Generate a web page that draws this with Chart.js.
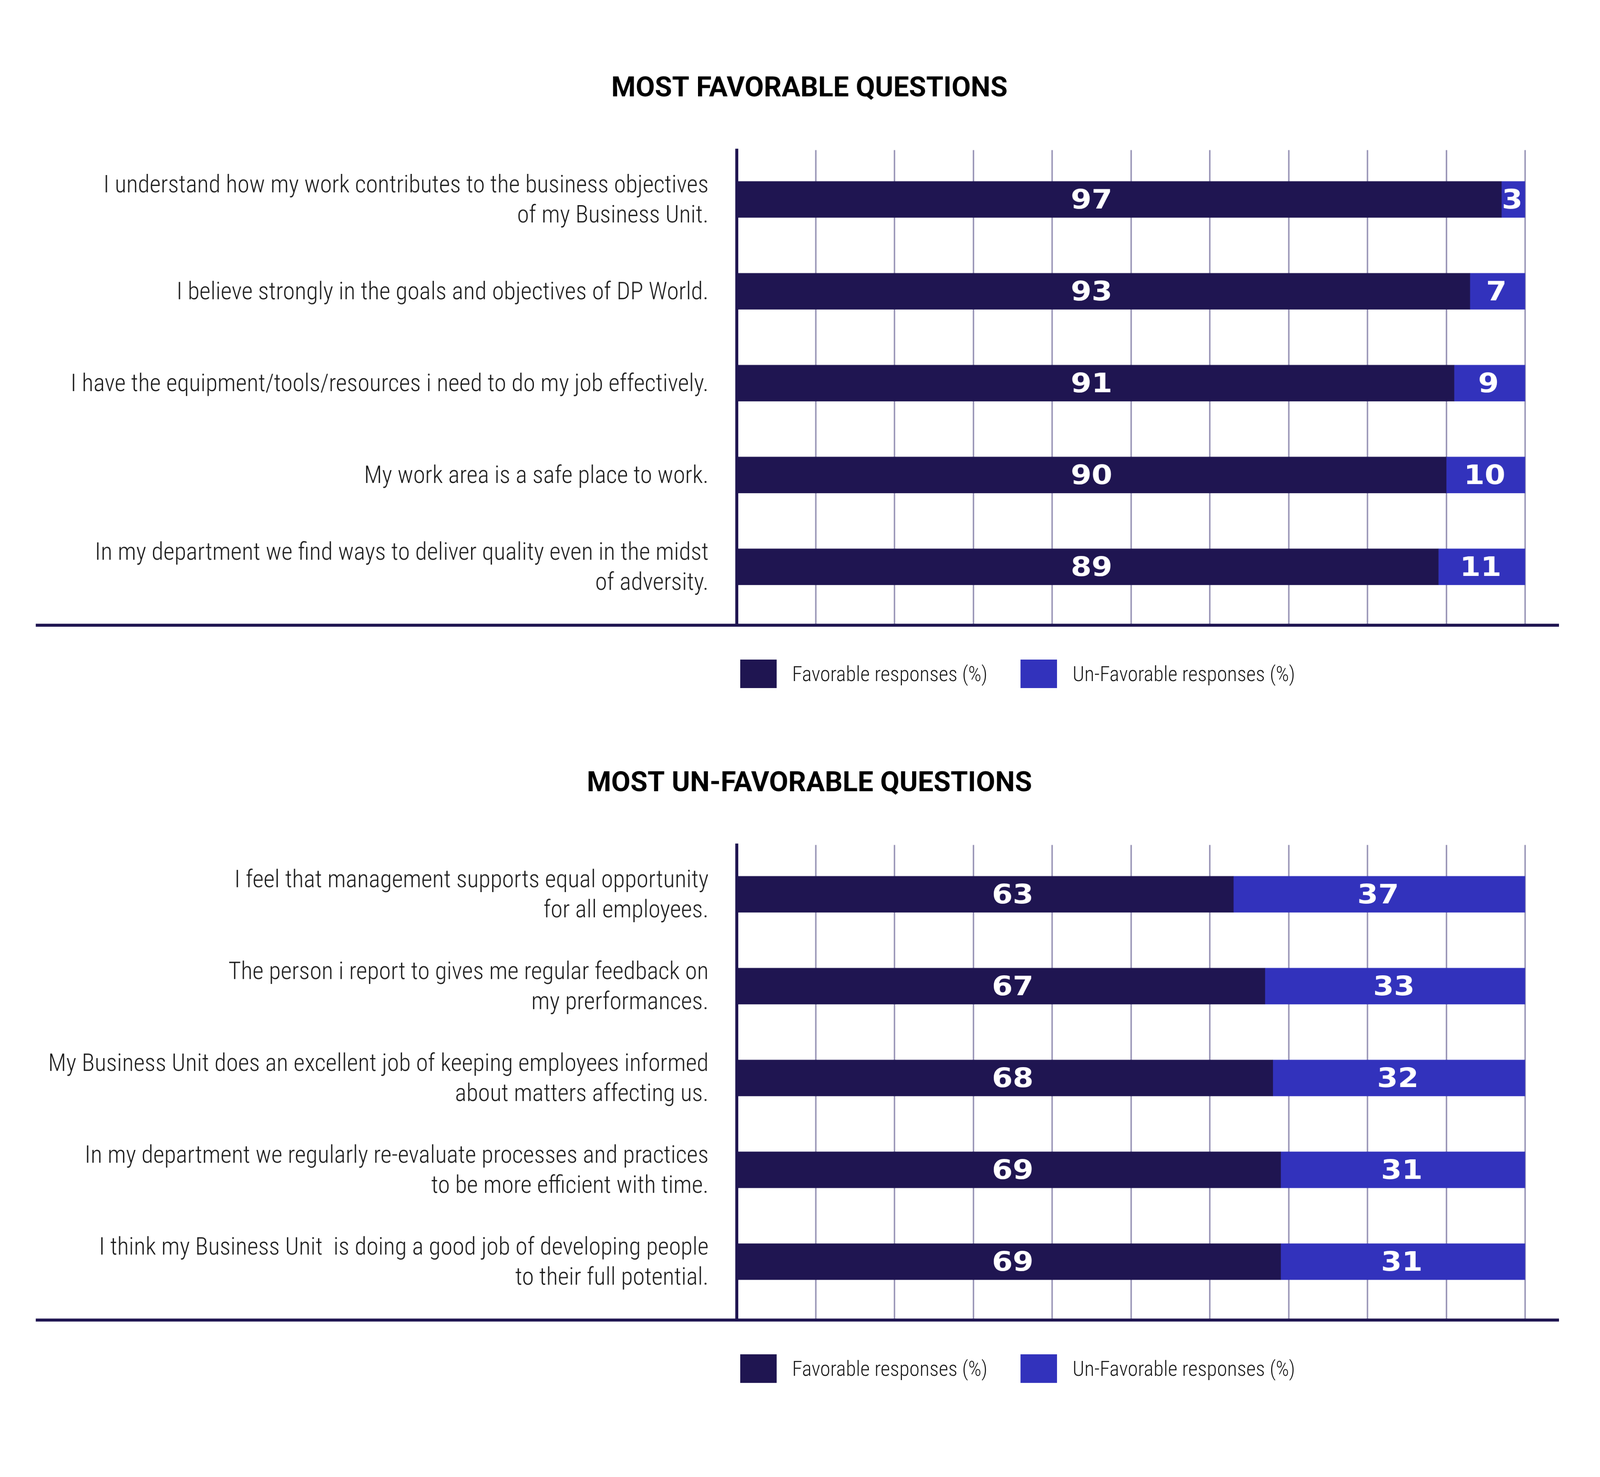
<!DOCTYPE html>
<html>
<head>
<meta charset="utf-8">
<script src="https://cdn.jsdelivr.net/npm/chart.js@4.4.1/dist/chart.umd.min.js"></script>
<style>
  html, body { margin: 0; padding: 0; background: #fff; overflow: hidden; }
  #page { position: absolute; left: 0; top: 0; width: 4252px; height: 3780px; transform-origin: 0 0; }
  .block { position: relative; width: 4252px; height: 1846px; }
  .block canvas { display: block; }
  .legend { position: absolute; left: 1967px; top: 1752px; display: flex; align-items: center;
    font-family: 'Roboto Condensed', 'DejaVu Sans Condensed', 'Roboto', sans-serif;
    font-weight: 300; font-size: 55px; color: #1a1a1a; }
  .legend span.box { display: inline-block; width: 97px; height: 76px; margin-right: 41px; }
  .legend span.txt { margin-right: 88px; }
</style>
</head>
<body>
<div id="page">
  <div class="block"><canvas id="fav"></canvas><div class="legend" id="favLegend"></div></div>
  <div class="block"><canvas id="unfav"></canvas><div class="legend" id="unfavLegend"></div></div>
</div>
<script>
const seriesNames = ['Favorable responses (%)', 'Un-Favorable responses (%)'];

const favQuestions = [
  ['I understand how my work contributes to the business objectives', 'of my Business Unit.'],
  ['I believe strongly in the goals and objectives of DP World.'],
  ['I have the equipment/tools/resources i need to do my job effectively.'],
  ['My work area is a safe place to work.'],
  ['In my department we find ways to deliver quality even in the midst', 'of adversity.']
];
const favPositive = [97, 93, 91, 90, 89];
const favNegative = [3, 7, 9, 10, 11];

const unfavQuestions = [
  ['I feel that management supports equal opportunity', 'for all employees.'],
  ['The person i report to gives me regular feedback on', 'my prerformances.'],
  ['My Business Unit does an excellent job of keeping employees informed', 'about matters affecting us.'],
  ['In my department we regularly re-evaluate processes and practices', 'to be more efficient with time.'],
  ['I think my Business Unit  is doing a good job of developing people', 'to their full potential.']
];
const unfavPositive = [63, 67, 68, 69, 69];
const unfavNegative = [37, 33, 32, 31, 31];

// fit the 4252px design into whatever css viewport we get
const fitScale = window.innerWidth / 4252;
document.getElementById('page').style.transform = `scale(${fitScale})`;

const Survey = (() => {
  const S = {
    dark: '#1f1551', blue: '#3232bc', grid: '#9b97b8', text: '#1a1a1a',
    narrow: "'Roboto Condensed', 'DejaVu Sans Condensed', 'Roboto', sans-serif",
    wide: "'DejaVu Sans', 'Verdana', sans-serif"
  };

  // value labels + long base line under the plot
  const extras = {
    id: 'extras',
    afterLayout(chart) { chart.scales.y.left = 0; },
    afterDraw(chart, args, opts) {
      const { ctx, chartArea, scales } = chart;
      ctx.save();
      ctx.fillStyle = S.dark;
      ctx.fillRect(95, chartArea.bottom, chartArea.right + 90 - 95, 8);
      ctx.font = `bold 71px ${S.wide}`;
      ctx.fillStyle = '#fff';
      ctx.textAlign = 'center';
      ctx.textBaseline = 'middle';
      chart.data.datasets.forEach((ds, di) => {
        chart.getDatasetMeta(di).data.forEach((bar, i) => {
          const x = di === 0 ? scales.x.getPixelForValue(opts.favAt) : (bar.x + bar.base) / 2 - 3;
          ctx.save();
          ctx.translate(x, bar.y + 6);
          ctx.scale(1.12, 1);
          ctx.fillText(String(ds.data[i].x), 0, 0);
          ctx.restore();
        });
      });
      ctx.restore();
    }
  };

  function legend(el) {
    el.innerHTML = seriesNames.map((n, i) =>
      `<span class="box" style="background:${i ? S.blue : S.dark}"></span><span class="txt">${n}</span>`).join('');
  }

  function draw(canvasId, legendId, title, questions, pos, neg, favAt) {
    const canvas = document.getElementById(canvasId);
    canvas.width = 4252; canvas.height = 1846;
    legend(document.getElementById(legendId));
    return new Chart(canvas.getContext('2d'), {
      type: 'bar',
      data: { datasets: [
        { label: seriesNames[0], data: pos.map((v, i) => ({ x: v, y: i })), backgroundColor: S.dark, barThickness: 96 },
        { label: seriesNames[1], data: neg.map((v, i) => ({ x: v, y: i })), backgroundColor: S.blue, barThickness: 96 }
      ] },
      plugins: [extras],
      options: {
        indexAxis: 'y', responsive: false, animation: false, devicePixelRatio: 1,
        layout: { padding: { left: 249, right: 199, top: 0, bottom: 189 } },
        plugins: {
          legend: { display: false }, tooltip: { enabled: false },
          title: { display: true, text: title, color: '#000',
            font: { family: "'Roboto', sans-serif", size: 74, weight: 'bold', lineHeight: 1.2 },
            padding: { top: 193, bottom: 117 } },
          extras: { favAt }
        },
        scales: {
          x: { type: 'linear', stacked: true, min: 0, max: 100, z: 1,
            ticks: { display: false, stepSize: 10 },
            grid: { color: S.grid, lineWidth: 4, drawTicks: false },
            border: { display: false } },
          y: { type: 'linear', stacked: true, reverse: true, offset: false, min: -0.537, max: 4.619, z: 1,
            afterBuildTicks: s => { s.ticks = questions.map((q, i) => ({ value: i })); },
            afterFit: s => { s.width = 1958 - 249; },
            ticks: { autoSkip: false, padding: 75, labelOffset: 5, color: S.text, callback: v => questions[v],
              font: { family: S.narrow, size: 64, weight: 300, lineHeight: 1.24 } },
            grid: { display: false, drawTicks: false },
            border: { color: S.dark, width: 8 } }
        }
      }
    });
  }

  return { draw };
})();

Survey.draw('fav', 'favLegend', 'MOST FAVORABLE QUESTIONS', favQuestions, favPositive, favNegative, 45);
Survey.draw('unfav', 'unfavLegend', 'MOST UN-FAVORABLE QUESTIONS', unfavQuestions, unfavPositive, unfavNegative, 35);
</script>
</body>
</html>
